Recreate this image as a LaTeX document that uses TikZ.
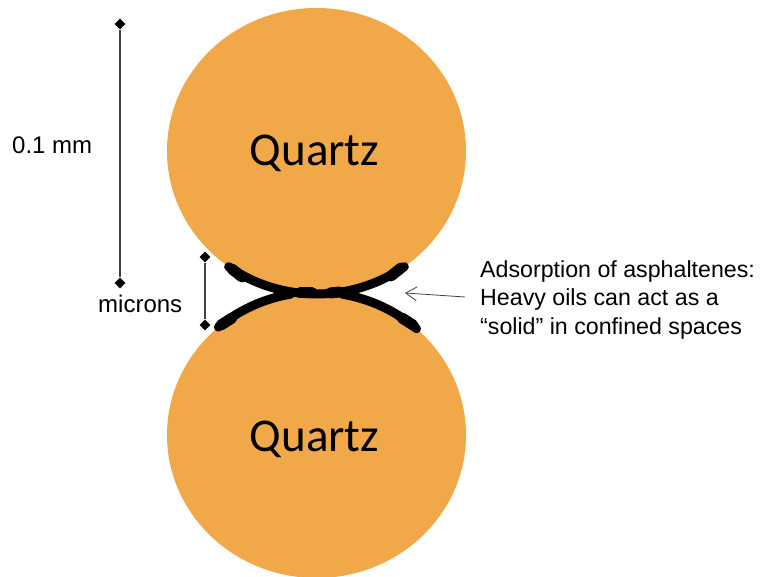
\documentclass[tikz,border=0pt]{standalone}
\usepackage{fontspec}
\setmainfont{Liberation Sans}
\newfontfamily\grainfont{Carlito}
\usetikzlibrary{shapes.geometric,arrows.meta}
\definecolor{quartz}{RGB}{240,168,72}
\definecolor{barline}{RGB}{64,64,64}
\begin{document}
\begin{tikzpicture}[x=1pt,y=1pt,
  grain/.style={fill=quartz},
  grainlabel/.style={font=\grainfont\fontsize{47}{56}\selectfont,inner sep=0,anchor=base},
  tick/.style={diamond,fill=black,inner sep=0,minimum size=11pt},
  bar/.style={draw=barline,line width=1.3pt},
  deposit/.style={line width=9pt,line cap=round,draw=black},
  blob/.style={line width=11pt,line cap=round,draw=black},
  label/.style={font=\fontsize{24}{29}\selectfont,inner sep=0},
  notetext/.style={font=\fontsize{23.2}{28.5}\selectfont,inner sep=0},
  pointer/.style={draw=barline,line width=0.8pt,-{Straight Barb[length=11pt,width=14pt]}},
]
\useasboundingbox (0,0) rectangle (769,577);

% two quartz grains
\fill[grain] (316.5,426) ellipse [x radius=149.5,y radius=143];
\fill[grain] (316.5,142) ellipse [x radius=149.5,y radius=143];
\node[grainlabel] (qtop) at (314.5,411) {Quartz};
\node[grainlabel] (qbot) at (314.5,125) {Quartz};

% adsorbed asphaltene film along the grain surfaces
\draw[deposit] (228.6,310.3) arc [start angle=234,end angle=306,x radius=149.5,y radius=143];
\draw[deposit] (218.4,249.9) arc [start angle=131,end angle=100,x radius=149.5,y radius=143];
\draw[deposit] (342.5,282.8) arc [start angle=80,end angle=48,x radius=149.5,y radius=143];
\draw[blob] (232,308) -- (242,300);
\draw[blob] (401,309) -- (391,301);
\draw[blob] (221,252) -- (232,259);
\draw[blob] (413,252) -- (402,259);
\draw[blob] (300,284) -- (312,284);
\draw[blob] (330,284) -- (340,285);

% scale bars
\node[tick] (big1) at (120,553) {};
\node[tick] (big2) at (120,294) {};
\draw[bar] (big1) -- (big2);
\node[tick] (small1) at (205,320) {};
\node[tick] (small2) at (205,252) {};
\draw[bar] (small1) -- (small2);
\node[label,anchor=west] (mm) at (12,432) {0.1 mm};
\node[label,anchor=west] (mic) at (98,273) {microns};

% annotation
\node[notetext,anchor=west,align=left] (note) at (480,277)
  {Adsorption of asphaltenes:\\Heavy oils can act as a\\“solid” in confined spaces};
\coordinate (tip) at (405,284);
\draw[pointer] ([shift={(-15pt,3pt)}]note.west) -- (tip);
\end{tikzpicture}
\end{document}
